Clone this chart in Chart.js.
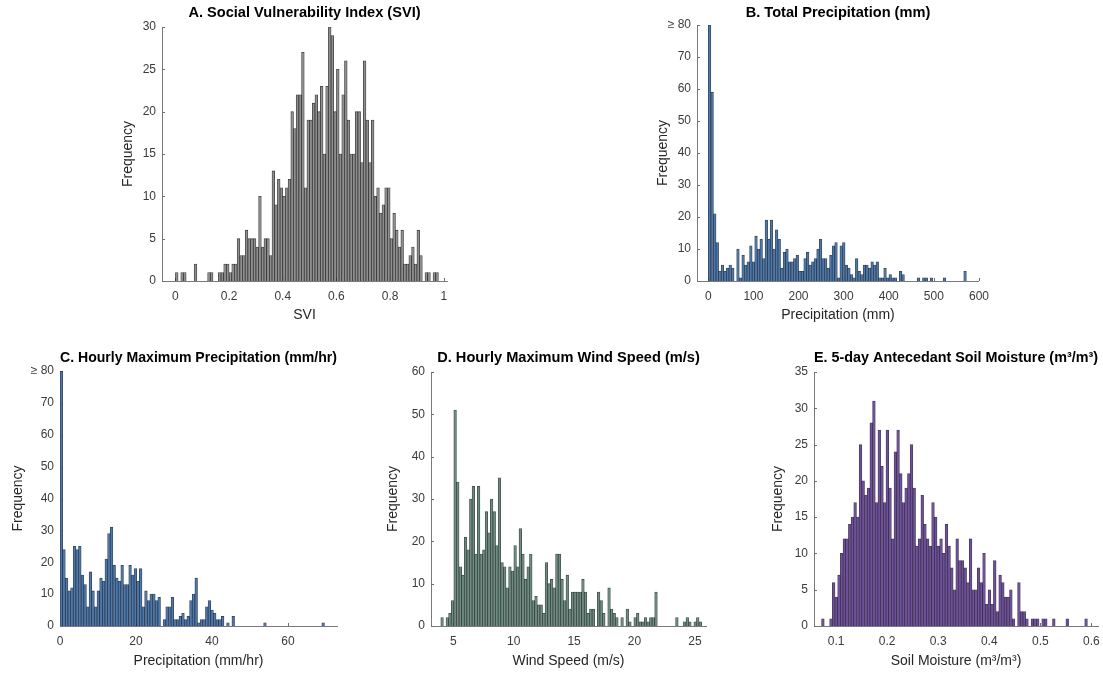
<!DOCTYPE html>
<html>
<head>
<meta charset="utf-8">
<title>Histograms</title>
<script src="https://cdn.jsdelivr.net/npm/chart.js@4.4.1/dist/chart.umd.min.js"></script>
<style>
  html, body { margin: 0; padding: 0; background: #fff; overflow: hidden; }
  body { width: 1103px; height: 675px; position: relative; }
  canvas { position: absolute; }
</style>
</head>
<body>
<canvas id="svi"></canvas>
<canvas id="precip"></canvas>
<canvas id="hourly"></canvas>
<canvas id="wind"></canvas>
<canvas id="soil"></canvas>
<script>
// Bin counts, one entry per histogram bin (left to right)

// A. SVI, bins of 0.01 starting at 0
const sviStart = 0, sviWidth = 0.01;
const sviCounts = [
  1, 0, 1, 1, 0, 0, 0, 2, 0, 0,
  0, 0, 1, 1, 0, 0, 1, 1, 2, 2,
  1, 2, 2, 5, 3, 3, 6, 5, 5, 5,
  4, 10, 4, 5, 5, 3, 13, 9, 12, 11,
  10, 11, 12, 20, 18, 22, 22, 27, 11, 19,
  19, 21, 22, 20, 23, 15, 23, 30, 29, 20,
  25, 15, 22, 26, 19, 15, 15, 20, 20, 14,
  26, 19, 14, 19, 10, 11, 8, 9, 11, 11,
  5, 8, 6, 4, 6, 2, 2, 3, 4, 2,
  6, 3, 0, 1, 1, 0, 1, 1
];
const sviXTicks = [0, 0.2, 0.4, 0.6, 0.8, 1];
const sviYTicks = [0, 5, 10, 15, 20, 25, 30];

// B. Total precipitation (mm)
const precipStart = 0, precipWidth = 5.72;
const precipCounts = [
  80, 59, 21, 12, 3, 5, 3, 4, 5, 4,
  0, 10, 1, 8, 5, 6, 11, 6, 14, 10,
  13, 7, 19, 13, 19, 10, 16, 13, 4, 9,
  10, 6, 6, 7, 8, 3, 3, 7, 9, 5,
  6, 7, 10, 13, 7, 7, 4, 8, 11, 12,
  1, 11, 12, 5, 4, 2, 1, 7, 3, 2,
  5, 5, 4, 6, 5, 6, 1, 1, 4, 1,
  2, 1, 1, 0, 3, 2, 0, 0, 0, 0,
  0, 1, 0, 1, 1, 0, 1, 0, 0, 0,
  0, 1, 0, 0, 0, 0, 0, 0, 0, 3
];
const precipXTicks = [0, 100, 200, 300, 400, 500, 600];
const cappedYTicks = [0, 10, 20, 30, 40, 50, 60, 70, 80];

// C. Hourly maximum precipitation (mm/hr)
const hourlyStart = 0, hourlyWidth = 0.696;
const hourlyCounts = [
  80, 24, 15, 11, 12, 25, 24, 25, 16, 13,
  6, 17, 11, 6, 11, 15, 14, 21, 29, 31,
  19, 15, 14, 19, 13, 13, 19, 16, 18, 14,
  18, 6, 11, 8, 10, 10, 8, 9, 0, 2,
  6, 6, 9, 2, 2, 3, 4, 2, 3, 8,
  10, 15, 1, 2, 2, 6, 8, 5, 4, 2,
  2, 3, 0, 1, 0, 3, 0, 0, 0, 0,
  0, 0, 0, 0, 0, 0, 0, 1, 0, 0,
  0, 0, 0, 0, 0, 0, 0, 0, 0, 0,
  0, 0, 0, 0, 0, 0, 0, 0, 0, 1
];
const hourlyXTicks = [0, 20, 40, 60];

// D. Hourly maximum wind speed (m/s)
const windStart = 3.96, windWidth = 0.216;
const windCounts = [
  2, 0, 2, 3, 6, 51, 34, 14, 12, 21,
  18, 30, 33, 17, 33, 17, 18, 27, 22, 30,
  27, 19, 35, 15, 14, 9, 14, 13, 19, 14,
  23, 17, 11, 14, 17, 6, 7, 5, 5, 3,
  15, 10, 11, 9, 17, 17, 11, 6, 12, 4,
  8, 8, 8, 8, 11, 8, 3, 4, 4, 0,
  8, 6, 3, 0, 9, 4, 3, 2, 0, 2,
  0, 4, 1, 0, 2, 3, 1, 1, 2, 1,
  2, 2, 8, 0, 0, 0, 0, 0, 0, 0,
  2, 0, 0, 1, 2, 1, 0, 1, 2, 1
];
const windXTicks = [5, 10, 15, 20, 25];
const windYTicks = [0, 10, 20, 30, 40, 50, 60];

// E. 5-day antecedent soil moisture (m3/m3)
const soilStart = 0.0715, soilWidth = 0.00526;
const soilCounts = [
  1, 0, 0, 1, 6, 4, 7, 10, 12, 12,
  14, 15, 17, 15, 25, 20, 18, 19, 28, 31,
  17, 27, 22, 17, 27, 19, 12, 24, 27, 21,
  17, 19, 21, 25, 19, 11, 12, 18, 14, 12,
  11, 17, 15, 11, 12, 10, 14, 11, 8, 5,
  12, 9, 9, 8, 6, 12, 5, 5, 8, 6,
  10, 3, 5, 3, 9, 2, 7, 6, 4, 4,
  5, 1, 0, 6, 2, 2, 1, 0, 1, 1,
  1, 0, 1, 1, 0, 0, 1, 0, 0, 0,
  0, 1, 0, 0, 0, 0, 0, 0, 1, 0
];
const soilXTicks = [0.1, 0.2, 0.3, 0.4, 0.5, 0.6];
const soilYTicks = [0, 5, 10, 15, 20, 25, 30, 35];

const FONT = '"Liberation Sans", Arial, Helvetica, sans-serif';
const TITLE_SIZE = 14.6, AXIS_SIZE = 14, TICK_SIZE = 12;
const AXIS_COLOR = '#7a7a7a', TICK_COLOR = '#3a3a3a';

// MATLAB style tick marks pointing into the plot
const inwardTicks = {
  id: 'inwardTicks',
  beforeDatasetsDraw(chart) {
    const { ctx, chartArea: a, scales: { x, y } } = chart;
    ctx.save();
    ctx.strokeStyle = '#707070';
    ctx.lineWidth = 1;
    ctx.beginPath();
    x.ticks.forEach(t => {
      const px = Math.round(x.getPixelForValue(t.value)) + 0.5;
      ctx.moveTo(px, a.bottom);
      ctx.lineTo(px, a.bottom - 3);
    });
    y.ticks.forEach(t => {
      const py = Math.round(y.getPixelForValue(t.value)) + 0.5;
      ctx.moveTo(a.left, py);
      ctx.lineTo(a.left + 3, py);
    });
    ctx.stroke();
    ctx.restore();
  }
};

function histogram(id, p) {
  const canvas = document.getElementById(id);
  const left = Math.round(p.ylabelX - AXIS_SIZE * 0.6);
  const top = Math.round(p.titleY - TITLE_SIZE * 0.6);
  const right = p.plot.right + 12;
  const bottom = Math.round(p.xlabelY + AXIS_SIZE * 0.6);
  const w = right - left, h = bottom - top;
  canvas.width = w;
  canvas.height = h;
  canvas.style.left = left + 'px';
  canvas.style.top = top + 'px';
  canvas.style.width = w + 'px';
  canvas.style.height = h + 'px';

  const points = p.counts.map((c, i) => ({ x: p.start + (i + 0.5) * p.width, y: c }));
  const tickFont = { family: FONT, size: TICK_SIZE };
  const axisFont = { family: FONT, size: AXIS_SIZE, lineHeight: 1.2 };

  new Chart(canvas, {
    type: 'bar',
    data: {
      datasets: [{
        data: points,
        backgroundColor: p.color,
        borderColor: p.edge,
        borderWidth: 0.8,
        barPercentage: 1,
        categoryPercentage: 1
      }]
    },
    options: {
      responsive: false,
      animation: false,
      devicePixelRatio: 1,
      layout: { padding: { left: 0, top: 0, right: w - (p.plot.right - left), bottom: 0 } },
      plugins: {
        legend: { display: false },
        tooltip: { enabled: false },
        title: {
          display: true,
          text: p.title,
          fullSize: false,
          color: '#000',
          font: { family: FONT, size: TITLE_SIZE, weight: 'bold', lineHeight: 1.2 },
          padding: { top: 0, bottom: p.plot.top - top - TITLE_SIZE * 1.2 }
        }
      },
      scales: {
        x: {
          type: 'linear',
          min: p.xmin,
          max: p.xmax,
          offset: false,
          grid: { display: false, drawTicks: false },
          border: { display: true, color: AXIS_COLOR, width: 1 },
          afterBuildTicks: s => { s.ticks = p.xticks.map(v => ({ value: v })); },
          afterFit: s => { s.height = bottom - p.plot.bottom; },
          ticks: { padding: 8, color: TICK_COLOR, font: tickFont, maxRotation: 0, autoSkip: false, callback: v => String(v) },
          title: { display: true, text: p.xlabel, color: '#262626', font: axisFont, padding: 0 }
        },
        y: {
          type: 'linear',
          min: 0,
          max: p.yticks[p.yticks.length - 1],
          grid: { display: false, drawTicks: false },
          border: { display: true, color: AXIS_COLOR, width: 1 },
          afterBuildTicks: s => { s.ticks = p.yticks.map(v => ({ value: v })); },
          afterFit: s => { s.width = p.plot.left - left; },
          ticks: {
            padding: 6, color: TICK_COLOR, font: tickFont, autoSkip: false,
            callback: v => (p.capped && v === p.yticks[p.yticks.length - 1]) ? '\u2265 ' + v : String(v)
          },
          title: { display: true, text: 'Frequency', color: '#262626', font: axisFont, padding: 0 }
        }
      }
    },
    plugins: [inwardTicks]
  });
}

histogram('svi', {
  title: 'A. Social Vulnerability Index (SVI)', xlabel: 'SVI',
  counts: sviCounts, start: sviStart, width: sviWidth,
  xticks: sviXTicks, yticks: sviYTicks, xmin: -0.05, xmax: 1.012,
  plot: { left: 162, right: 447, top: 27, bottom: 281 },
  ylabelX: 128, xlabelY: 316, titleY: 13,
  color: '#8f8f8f', edge: 'rgba(30,30,30,0.85)'
});

histogram('precip', {
  title: 'B. Total Precipitation (mm)', xlabel: 'Precipitation (mm)',
  counts: precipCounts, start: precipStart, width: precipWidth,
  xticks: precipXTicks, yticks: cappedYTicks, capped: true, xmin: -25, xmax: 600,
  plot: { left: 697, right: 985, top: 25, bottom: 281 },
  ylabelX: 663, xlabelY: 316, titleY: 13,
  color: '#4d78aa', edge: 'rgba(20,35,60,0.85)'
});

histogram('hourly', {
  title: 'C. Hourly Maximum Precipitation (mm/hr)', xlabel: 'Precipitation (mm/hr)',
  counts: hourlyCounts, start: hourlyStart, width: hourlyWidth,
  xticks: hourlyXTicks, yticks: cappedYTicks, capped: true, xmin: 0, xmax: 72.9,
  plot: { left: 60, right: 337, top: 371, bottom: 626 },
  ylabelX: 18, xlabelY: 662, titleY: 358,
  color: '#4d78aa', edge: 'rgba(20,35,60,0.85)'
});

histogram('wind', {
  title: 'D. Hourly Maximum Wind Speed (m/s)', xlabel: 'Wind Speed (m/s)',
  counts: windCounts, start: windStart, width: windWidth,
  xticks: windXTicks, yticks: windYTicks, xmin: 3.15, xmax: 25.92,
  plot: { left: 431, right: 706, top: 372, bottom: 626 },
  ylabelX: 393, xlabelY: 662, titleY: 358,
  color: '#6e8c82', edge: 'rgba(30,45,40,0.85)'
});

histogram('soil', {
  title: 'E. 5-day Antecedant Soil Moisture (m\u00b3/m\u00b3)', xlabel: 'Soil Moisture (m\u00b3/m\u00b3)',
  counts: soilCounts, start: soilStart, width: soilWidth,
  xticks: soilXTicks, yticks: soilYTicks, xmin: 0.0567, xmax: 0.613,
  plot: { left: 814, right: 1098, top: 372, bottom: 626 },
  ylabelX: 778, xlabelY: 662, titleY: 358,
  color: '#70509c', edge: 'rgba(35,25,55,0.85)'
});
</script>
</body>
</html>
